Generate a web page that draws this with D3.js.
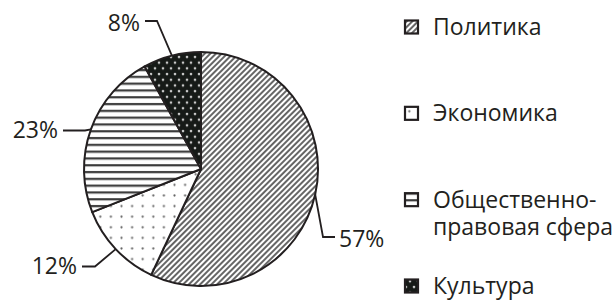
<!DOCTYPE html>
<html>
<head>
<meta charset="utf-8">
<script src="https://cdn.jsdelivr.net/npm/d3@7"></script>
<style>
  body { margin: 0; background: #fff; }
  svg text { font-family: "Open Sans", sans-serif; fill: #231f20; }
</style>
</head>
<body>
<svg id="chart" width="616" height="300"></svg>
<script>
// data
const categories = ["Политика", "Экономика", "Общественно-правовая сфера", "Культура"];
const shares = [57, 12, 23, 8];
const percentLabels = ["57%", "12%", "23%", "8%"];
const legendLines = [["Политика"], ["Экономика"], ["Общественно-", "правовая сфера"], ["Культура"]];
const patternIds = ["p-diag", "p-dots", "p-lines", "p-dark"];

// leader layout: elbow point, end of horizontal tick, text side
const leaders = [
  {ex: 323, ey: 237, hx: 335, anchor: "start", dy: 10},
  {ex: 95, ey: 266.5, hx: 82, anchor: "end", dy: 7},
  {ex: 85, ey: 130.5, hx: 63, anchor: "end", dy: 7.5},
  {ex: 157, ey: 21, hx: 145, anchor: "end", dy: 10}
];

const svg = d3.select("#chart");
const cx = 201, cy = 169, radius = 117;
const ink = "#231f20";

// hatch patterns
const defs = svg.append("defs");

const diag = defs.append("pattern").attr("id", "p-diag")
  .attr("patternUnits", "userSpaceOnUse").attr("width", 4).attr("height", 4)
  .attr("patternTransform", "rotate(45)");
diag.append("rect").attr("width", 4).attr("height", 4).attr("fill", "#fff");
diag.append("line").attr("x1", 1).attr("y1", 0).attr("x2", 1).attr("y2", 4)
  .attr("stroke", "#555").attr("stroke-width", 1.8);

const dots = defs.append("pattern").attr("id", "p-dots")
  .attr("patternUnits", "userSpaceOnUse").attr("width", 10.6).attr("height", 10.6);
dots.append("rect").attr("width", 10.6).attr("height", 10.6).attr("fill", "#fff");
dots.append("circle").attr("cx", 5.3).attr("cy", 5.3).attr("r", 1.1).attr("fill", "#666");

const lines = defs.append("pattern").attr("id", "p-lines")
  .attr("patternUnits", "userSpaceOnUse").attr("width", 6.8).attr("height", 6.8);
lines.append("rect").attr("width", 6.8).attr("height", 6.8).attr("fill", "#fff");
lines.append("rect").attr("y", 2).attr("width", 6.8).attr("height", 2.2).attr("fill", "#3a3a3a");

const dark = defs.append("pattern").attr("id", "p-dark")
  .attr("patternUnits", "userSpaceOnUse").attr("width", 8).attr("height", 11.4);
dark.append("rect").attr("width", 8).attr("height", 11.4).attr("fill", "#161a17");
dark.append("circle").attr("cx", 2).attr("cy", 2).attr("r", 1.3).attr("fill", "#c8c8c8");
dark.append("circle").attr("cx", 6).attr("cy", 7.7).attr("r", 1.3).attr("fill", "#c8c8c8");

// pie
const pie = d3.pie().sort(null).value(d => d);
const arc = d3.arc().innerRadius(0).outerRadius(radius);
const arcs = pie(shares);

const g = svg.append("g").attr("transform", `translate(${cx},${cy})`);

g.selectAll("path.slice")
  .data(arcs)
  .enter().append("path")
  .attr("class", "slice")
  .attr("d", arc)
  .attr("fill", (d, i) => `url(#${patternIds[i]})`)
  .attr("stroke", ink)
  .attr("stroke-width", 2)
  .attr("stroke-linejoin", "round");

// leader lines + percent labels
arcs.forEach((d, i) => {
  const a = (d.startAngle + d.endAngle) / 2;
  const px = cx + radius * Math.sin(a);
  const py = cy - radius * Math.cos(a);
  const L = leaders[i];
  svg.append("polyline")
    .attr("points", `${px},${py} ${L.ex},${L.ey} ${L.hx},${L.ey}`)
    .attr("fill", "none")
    .attr("stroke", ink)
    .attr("stroke-width", 1.8);
  svg.append("text")
    .attr("x", L.anchor === "start" ? L.hx + 4 : L.hx - 5)
    .attr("y", L.ey + L.dy)
    .attr("text-anchor", L.anchor)
    .style("font-size", "23px")
    .text(percentLabels[i]);
});

// legend
const legend = svg.append("g").attr("transform", "translate(404,0)");
const baseY = d3.scaleLinear().domain([0, 3]).range([35, 294]);

legendLines.forEach((linesTxt, i) => {
  const y = baseY(i);
  legend.append("rect")
    .attr("x", 1).attr("y", y - 14.5)
    .attr("width", 13).attr("height", 13)
    .attr("fill", `url(#${patternIds[i]})`)
    .attr("stroke", ink)
    .attr("stroke-width", 2.2);
  const t = legend.append("text")
    .attr("x", 29).attr("y", y)
    .style("font-size", "23px");
  linesTxt.forEach((s, j) => {
    t.append("tspan").attr("x", 29).attr("dy", j === 0 ? 0 : 27).text(s);
  });
});
</script>
</body>
</html>
